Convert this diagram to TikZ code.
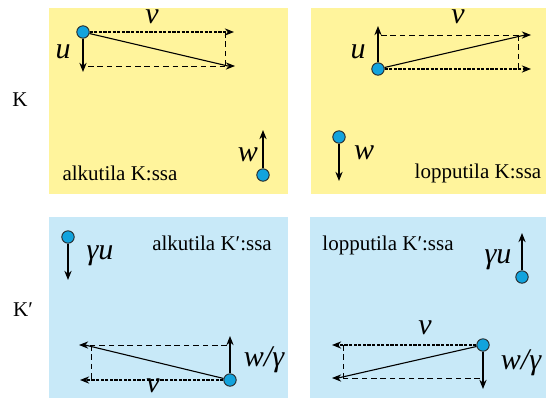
\documentclass[tikz,border=0pt]{standalone}
\usepackage{fontspec}
\setmainfont{Liberation Serif}
\usetikzlibrary{arrows.meta}
\definecolor{panelyellow}{HTML}{FFF49C}
\definecolor{panelblue}{HTML}{C8E9F8}
\definecolor{dotblue}{HTML}{12A3DD}

\begin{document}
\begin{tikzpicture}[x=0.5pt,y=-0.5pt,
    dot/.style={circle,draw=black!85,line width=0.45pt,fill=dotblue,inner sep=0pt,minimum size=6.2pt},
    vec/.style={line width=0.55pt,-{Stealth[length=4.6pt,width=3.6pt]}},
    vvec/.style={vec,dash pattern=on 1.6pt off 0.7pt},
    guide/.style={line width=0.45pt,dash pattern=on 2.8pt off 1.9pt},
    sym/.style={font=\fontsize{15}{18}\selectfont\itshape,inner sep=0pt},
    captxt/.style={font=\fontsize{10.5}{12}\selectfont,inner sep=0pt}]
        \useasboundingbox (0,0) rectangle (546,398);
        % panels
        \foreach \x/\y/\X/\Y/\c in {49/8/288/194/panelyellow,311/8/546/194/panelyellow,
                                    49/217/288/398/panelblue,310/217/546/398/panelblue}{
          \fill[\c] (\x,\y) rectangle (\X,\Y);
        }
        \node[captxt] (frameK) at (20,100) {K};
        \node[captxt] (frameKp) at (23,310) {K′};

        % alkutila K:ssa
        \node[dot] (a1) at (83,32) {};
        \coordinate (a1u) at (83,72);
        \coordinate (a1v) at (234,32);
        \coordinate (a1s) at (235,66);
        \draw[vec] (a1) -- (a1u);
        \draw[vvec] (a1) -- (a1v);
        \draw[guide,-{Stealth[length=4.6pt,width=3.6pt]}] (88,66) -- (a1s);
        \draw[guide] (225,32) -- (225,66);
        \draw[line width=0.55pt] (a1) -- (228,66);
        \node[sym] (a1vl) at (152,17) {v};
        \node[sym] (a1ul) at (63,52) {u};
        \node[dot] (a2) at (263,175) {};
        \coordinate (a2w) at (263,130);
        \draw[vec] (a2) -- (a2w);
        \node[sym] (a2wl) at (248,155) {w};
        \node[captxt] (a1txt) at (120,173) {alkutila K:ssa};

        % lopputila K:ssa
        \node[dot] (b1) at (378,69) {};
        \coordinate (b1u) at (378,26);
        \coordinate (b1v) at (531,69);
        \coordinate (b1s) at (531,35);
        \draw[vec] (b1) -- (b1u);
        \draw[vvec] (b1) -- (b1v);
        \draw[guide,-{Stealth[length=4.6pt,width=3.6pt]}] (381,35) -- (b1s);
        \draw[guide] (518,35) -- (518,69);
        \draw[line width=0.55pt] (b1) -- (525,35);
        \node[sym] (b1vl) at (458,17) {v};
        \node[sym] (b1ul) at (358,52) {u};
        \node[dot] (b2) at (339,137) {};
        \coordinate (b2w) at (339,181);
        \draw[vec] (b2) -- (b2w);
        \node[sym] (b2wl) at (364,153) {w};
        \node[captxt] (b1txt) at (478,173) {lopputila K:ssa};

        % alkutila K':ssa
        \node[dot] (c1) at (68,237) {};
        \coordinate (c1u) at (68,280);
        \draw[vec] (c1) -- (c1u);
        \node[sym] (c1ul) at (100,256) {γu};
        \node[captxt] (c1txt) at (212,243) {alkutila K′:ssa};
        \node[dot] (c2) at (230,380) {};
        \coordinate (c2w) at (230,336);
        \coordinate (c2v) at (80,380);
        \coordinate (c2s) at (79,345);
        \draw[vec] (c2) -- (c2w);
        \draw[vvec] (c2) -- (c2v);
        \draw[guide,-{Stealth[length=4.6pt,width=3.6pt]}] (227,345) -- (c2s);
        \draw[guide] (91,345) -- (91,380);
        \draw[line width=0.55pt] (c2) -- (85,345);
        \node[sym] (c2wl) at (264,360) {w/γ};
        \node[sym] (c2vl) at (153,386) {v};

        % lopputila K':ssa
        \node[dot] (d1) at (522,277) {};
        \coordinate (d1u) at (522,233);
        \draw[vec] (d1) -- (d1u);
        \node[sym] (d1ul) at (498,260) {γu};
        \node[captxt] (d1txt) at (388,245) {lopputila K′:ssa};
        \node[dot] (d2) at (483,345) {};
        \coordinate (d2w) at (483,389);
        \coordinate (d2v) at (332,345);
        \coordinate (d2s) at (332,378);
        \draw[vec] (d2) -- (d2w);
        \draw[vvec] (d2) -- (d2v);
        \draw[guide,-{Stealth[length=4.6pt,width=3.6pt]}] (480,378) -- (d2s);
        \draw[guide] (343,345) -- (343,378);
        \draw[line width=0.55pt] (d2) -- (338,378);
        \node[sym] (d2vl) at (425,328) {v};
        \node[sym] (d2wl) at (521,363) {w/γ};
      \end{tikzpicture}
\end{document}
